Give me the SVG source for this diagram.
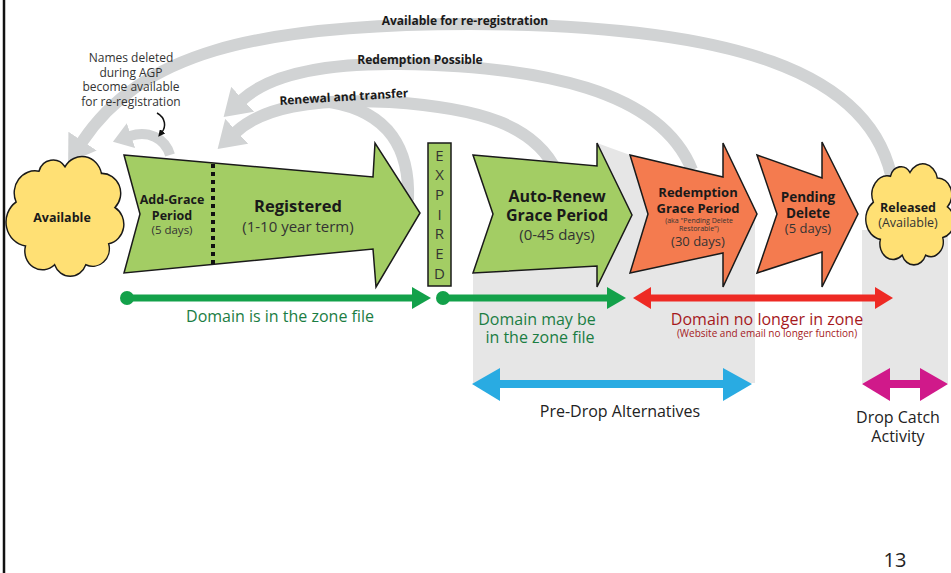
<svg xmlns="http://www.w3.org/2000/svg" xmlns:xlink="http://www.w3.org/1999/xlink" width="951" height="573" viewBox="0 0 951 573">
<style>
text{font-family:"Open Sans","Liberation Sans",sans-serif;fill:#1a1a1a;text-anchor:middle}
.b{font-weight:bold}
.arc{fill:none;stroke:#d1d3d4;stroke-width:12}
.node{stroke:#1a1a1a;stroke-width:1.5;stroke-linejoin:miter}
.green{fill:#a3cd64}
.orange{fill:#f47b4f}
.cloud{fill:#ffe074;stroke:#1a1a1a;stroke-width:1.5}
.shade{fill:#e6e6e6}
.gtxt{fill:#1b7d43}
.rtxt{fill:#a5191d}
</style>
<defs>
<marker id="gh" markerUnits="userSpaceOnUse" markerWidth="26" markerHeight="34" viewBox="0 0 26 34" refX="1" refY="17" orient="auto"><path d="M0,0 L26,17 L0,34 Z" fill="#d1d3d4"/></marker>
<marker id="gs" markerUnits="userSpaceOnUse" markerWidth="19" markerHeight="26" viewBox="0 0 19 26" refX="1" refY="13" orient="auto"><path d="M0,0 L19,13 L0,26 Z" fill="#d1d3d4"/></marker>
<marker id="bk" markerUnits="userSpaceOnUse" markerWidth="7" markerHeight="7" viewBox="0 0 7 7" refX="1" refY="3.5" orient="auto"><path d="M0,0 L7,3.5 L0,7 Z" fill="#111"/></marker>
<path id="cloudshape" d="M3,40 A20,20 0 0 1 25,12 A14,14 0 0 1 50,8 A19,19 0 0 1 85,14 A18,18 0 0 1 98,45 A18,18 0 0 1 92,78 A16,16 0 0 1 70,97 A16,16 0 0 1 40,97 A17,17 0 0 1 12,80 A22,22 0 0 1 3,40 Z"/>
</defs>

<line x1="4" y1="0" x2="4" y2="573" stroke="#111" stroke-width="2.5"/>

<g id="shading">
<polygon class="shade" points="473,273 473,383 755,383 755,214 723,143 723,177 630,155 597,143 597,266"/>
<rect class="shade" x="862" y="230" width="86" height="153"/>
</g>

<g id="connectors">
<path class="arc" d="M893,185 C875,70 730,25 470,24 C250,24 140,55 82,142" marker-end="url(#gh)"/>
<path class="arc" d="M692,170 C660,90 540,66 400,64 C320,63 268,76 242,100" marker-end="url(#gh)"/>
<path class="arc" d="M557,172 C535,125 480,108 390,102 C310,98 262,108 236,132" marker-end="url(#gh)"/>
<path class="arc" d="M408,200 C410,150 390,112 330,102"/>
<path class="arc" style="stroke-width:10" d="M170,155 C165,138 148,130 130,136" marker-end="url(#gs)"/>
<path d="M157,113 C166,118 166,127 162,132" fill="none" stroke="#111" stroke-width="1.5" marker-end="url(#bk)"/>
<text class="b" x="465" y="25" font-size="12">Available for re-registration</text>
<text class="b" x="420" y="64" font-size="12">Redemption Possible</text>
<text class="b" x="344" y="101" font-size="12" transform="rotate(-3.5 344 100)">Renewal and transfer</text>
</g>

<g id="note">
<text x="131" y="62" font-size="12" style="fill:#333">Names deleted</text>
<text x="131" y="76.5" font-size="12" style="fill:#333">during AGP</text>
<text x="131" y="91" font-size="12" style="fill:#333">become available</text>
<text x="131" y="105.5" font-size="12" style="fill:#333">for re-registration</text>
</g>

<g id="available">
<use xlink:href="#cloudshape" class="cloud" transform="translate(13,158) scale(1.04,1.1)" vector-effect="non-scaling-stroke" style="stroke-width:1.4"/>
<text class="b" x="62" y="222" font-size="12.5">Available</text>
</g>

<g id="registered">
<polygon class="node green" points="124,155 373,177 375,143 420,213 376,287 373,249 124,273 140,214"/>
<line x1="213" y1="164" x2="213" y2="264" stroke="#111" stroke-width="4" stroke-dasharray="4,4"/>
<text class="b" x="172" y="204" font-size="12.5">Add-Grace</text>
<text class="b" x="172" y="220" font-size="12.5">Period</text>
<text x="172" y="234" font-size="11.5" style="fill:#333">(5 days)</text>
<text class="b" x="298" y="212" font-size="16.5">Registered</text>
<text x="298" y="232" font-size="15" style="fill:#333">(1-10 year term)</text>
</g>

<g id="expired">
<rect class="node green" x="428" y="143" width="23" height="143"/>
<text x="439.5" y="160.5" font-size="15" style="fill:#333">E</text>
<text x="439.5" y="180" font-size="15" style="fill:#333">X</text>
<text x="439.5" y="200" font-size="15" style="fill:#333">P</text>
<text x="439.5" y="219.5" font-size="15" style="fill:#333">I</text>
<text x="439.5" y="239" font-size="15" style="fill:#333">R</text>
<text x="439.5" y="259" font-size="15" style="fill:#333">E</text>
<text x="439.5" y="278.5" font-size="15" style="fill:#333">D</text>
</g>

<g id="autorenew">
<polygon class="node green" points="473,155 597,166 597,143 632,215 597,287 597,266 473,273 493,214"/>
<text class="b" x="557" y="202" font-size="16">Auto-Renew</text>
<text class="b" x="557" y="221" font-size="16">Grace Period</text>
<text x="557" y="240" font-size="15" style="fill:#333">(0-45 days)</text>
</g>

<g id="redemption">
<polygon class="node orange" points="630,155 723,177 723,143 757,214 723,287 723,253 630,273 648,214"/>
<text class="b" x="698" y="197" font-size="13">Redemption</text>
<text class="b" x="698" y="213" font-size="13">Grace Period</text>
<text x="699" y="223" font-size="7" style="fill:#333">(aka "Pending Delete</text>
<text x="699" y="231" font-size="7" style="fill:#333">Restorable")</text>
<text x="698" y="246" font-size="13" style="fill:#333">(30 days)</text>
</g>

<g id="pending">
<polygon class="node orange" points="757,155 822,178 822,142 858,214 822,287 822,252 757,273 777,214"/>
<text class="b" x="808" y="202" font-size="13.5">Pending</text>
<text class="b" x="808" y="218" font-size="13.5">Delete</text>
<text x="808" y="233" font-size="13" style="fill:#333">(5 days)</text>
</g>

<g id="released">
<use xlink:href="#cloudshape" class="cloud" transform="translate(871,165) scale(0.78,0.93)" vector-effect="non-scaling-stroke" style="stroke-width:1.8"/>
<text class="b" x="908" y="212" font-size="12.5">Released</text>
<text x="908" y="227" font-size="12.5" style="fill:#333">(Available)</text>
</g>

<g id="zone-in">
<circle cx="127" cy="298" r="7" fill="#13a14a"/>
<line x1="127" y1="298" x2="413" y2="298" stroke="#13a14a" stroke-width="7"/>
<polygon points="412,287 431,298 412,309" fill="#13a14a"/>
<text class="gtxt" x="280" y="322" font-size="16">Domain is in the zone file</text>
</g>

<g id="zone-maybe">
<circle cx="443" cy="298" r="7" fill="#13a14a"/>
<line x1="443" y1="298" x2="608" y2="298" stroke="#13a14a" stroke-width="7"/>
<polygon points="607,287 626,298 607,309" fill="#13a14a"/>
<text class="gtxt" x="537" y="325" font-size="16">Domain may be</text>
<text class="gtxt" x="540" y="343" font-size="16">in the zone file</text>
</g>

<g id="zone-out">
<line x1="650" y1="298" x2="876" y2="298" stroke="#ee2a24" stroke-width="7"/>
<polygon points="651,287 633,298 651,309" fill="#ee2a24"/>
<polygon points="875,287 893,298 875,309" fill="#ee2a24"/>
<text class="rtxt" x="767" y="325" font-size="16">Domain no longer in zone</text>
<text class="rtxt" x="767" y="337" font-size="10">(Website and email no longer function)</text>
</g>

<g id="predrop">
<line x1="499" y1="384" x2="724" y2="384" stroke="#29abe2" stroke-width="8"/>
<polygon points="500,368 472,384 500,401" fill="#29abe2"/>
<polygon points="723,368 752,384 723,401" fill="#29abe2"/>
<text x="620" y="417" font-size="16" style="fill:#222">Pre-Drop Alternatives</text>
</g>

<g id="dropcatch">
<line x1="889" y1="384" x2="921" y2="384" stroke="#d0198a" stroke-width="8"/>
<polygon points="890,368 862,384 890,401" fill="#d0198a"/>
<polygon points="920,368 948,384 920,401" fill="#d0198a"/>
<text x="898" y="423" font-size="16" style="fill:#222">Drop Catch</text>
<text x="898" y="442" font-size="16" style="fill:#222">Activity</text>
</g>

<text x="895" y="567" font-size="20" style="fill:#222">13</text>
</svg>
